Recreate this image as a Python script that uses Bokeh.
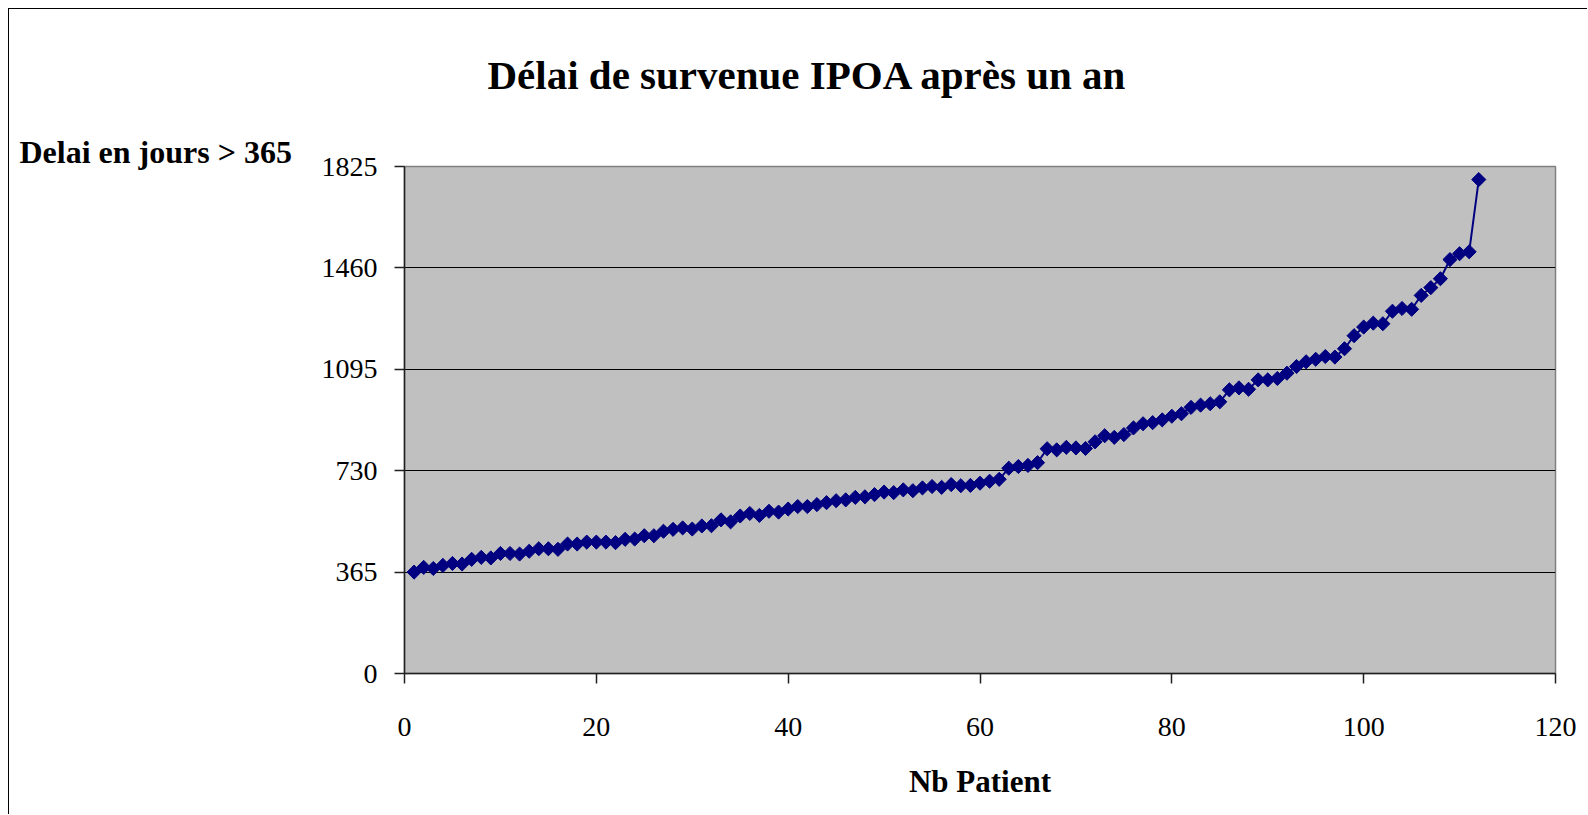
from bokeh.plotting import figure
from bokeh.models import Range1d, Title, FixedTicker
from bokeh.embed import file_html
from bokeh.resources import INLINE

# ---- data ----
patients = list(range(1, 113))
delais = [365, 382, 378, 389, 396, 394, 411, 418, 416, 432,
          432, 430, 440, 449, 449, 447, 466, 466, 473, 473,
          473, 471, 483, 484, 496, 496, 512, 519, 524, 520,
          531, 532, 553, 546, 567, 576, 569, 584, 581, 592,
          601, 601, 608, 615, 622, 625, 634, 636, 644, 653,
          651, 661, 658, 668, 673, 670, 680, 676, 677, 685,
          692, 699, 739, 745, 749, 759, 809, 805, 814, 812,
          810, 834, 856, 850, 860, 884, 899, 903, 913, 926,
          935, 958, 966, 971, 978, 1021, 1028, 1023, 1057, 1057,
          1062, 1081, 1105, 1122, 1131, 1141, 1139, 1169, 1216, 1247,
          1261, 1259, 1304, 1314, 1311, 1361, 1389, 1421, 1490, 1511,
          1518, 1778]
y_ticks = [0, 365, 730, 1095, 1460, 1825]
x_ticks = [0, 20, 40, 60, 80, 100, 120]
title_text = "Délai de survenue IPOA après un an"
y_label_text = "Delai en jours > 365"
x_label_text = "Nb Patient"

FONT = "Liberation Serif"
NAVY = "#000080"

p = figure(width=1579, height=806, output_backend="svg", toolbar_location=None,
           x_range=Range1d(0, 120), y_range=Range1d(0, 1825),
           min_border_left=395, min_border_right=33,
           min_border_top=157, min_border_bottom=142)
p.styles = {"margin-left": "8px", "margin-top": "8px",
            "border-left": "1px solid black", "border-top": "1px solid black"}

p.background_fill_color = "#C0C0C0"
p.border_fill_color = "white"
p.outline_line_color = "#808080"
p.outline_line_width = 1.5

p.xgrid.grid_line_color = None
p.ygrid.grid_line_color = "black"
p.ygrid.grid_line_width = 1
p.ygrid.ticker = FixedTicker(ticks=y_ticks)

p.xaxis.ticker = FixedTicker(ticks=x_ticks)
p.yaxis.ticker = FixedTicker(ticks=y_ticks)
for ax in (p.xaxis, p.yaxis):
    ax.axis_line_color = "#202020"
    ax.axis_line_width = 1.5
    ax.major_tick_line_color = "#202020"
    ax.major_tick_line_width = 1.5
    ax.major_tick_in = 0
    ax.major_tick_out = 10
    ax.minor_tick_line_color = None
    ax.major_label_text_font = FONT
    ax.major_label_text_font_size = "28px"
    ax.major_label_text_color = "black"
p.yaxis.major_label_standoff = 17
p.xaxis.major_label_standoff = 34

p.xaxis.axis_label = x_label_text
p.xaxis.axis_label_text_font = FONT
p.xaxis.axis_label_text_font_style = "bold"
p.xaxis.axis_label_text_font_size = "31px"
p.xaxis.axis_label_text_color = "black"
p.xaxis.axis_label_standoff = 25

p.line(patients, delais, line_color=NAVY, line_width=2)
p.scatter(patients, delais, marker="square", angle=0.785398, size=10,
          fill_color=NAVY, line_color=NAVY)

# y label (horizontal, top-left) then main title, both stacked above the frame
p.add_layout(Title(text=y_label_text, align="left", offset=-385, standoff=-6,
                   text_font=FONT, text_font_style="bold", text_font_size="32px",
                   text_color="black"), "above")
p.add_layout(Title(text=title_text, align="left", offset=83, standoff=74,
                   text_font=FONT, text_font_style="bold", text_font_size="41px",
                   text_color="black"), "above")

open("out.html", "w").write(file_html(p, INLINE))
